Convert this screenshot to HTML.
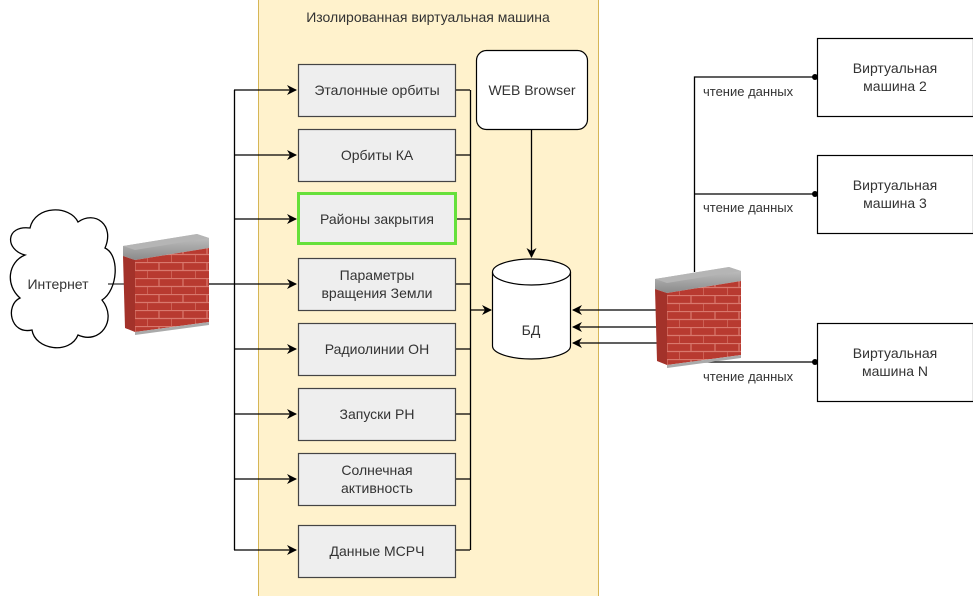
<!DOCTYPE html>
<html><head><meta charset="utf-8"><style>
body{margin:0;background:#fff}
svg text{font-family:"Liberation Sans",sans-serif;font-size:14px;fill:#333}
</style></head><body>
<svg width="973" height="596" viewBox="0 0 973 596" xmlns="http://www.w3.org/2000/svg">
<defs>
<marker id="ar" markerWidth="10" markerHeight="10" refX="9" refY="5" orient="auto" markerUnits="userSpaceOnUse"><path d="M0,0 L10,5 L0,10 L3,5 z" fill="#000"/></marker>
<linearGradient id="cap" x1="0" y1="0" x2="0" y2="1"><stop offset="0" stop-color="#c4c4c4"/><stop offset="1" stop-color="#8a8a8a"/></linearGradient>
<pattern id="brick" width="24" height="16" patternUnits="userSpaceOnUse"><rect width="24" height="16" fill="#b83a30"/><path d="M0,0.5H24 M0,8.5H24 M12,0V8 M0,8V16" stroke="#d9786d" stroke-width="1.2"/></pattern>
<g id="fw">
<polygon points="0,16 74,4 86,8 86,18 12,30 0,26" fill="url(#cap)"/>
<polygon points="0,16 74,4 86,8 12,20" fill="#b5b5b5"/>
<polygon points="0,26 12,30 12,102 2,98" fill="#a3322a"/>
<polygon points="12,30 86,18 86,92 12,102" fill="url(#brick)"/>
<polygon points="12,102 86,92 86,95 12,105" fill="#aaa"/>
</g>
</defs>
<rect x="258.5" y="-1" width="340" height="598" fill="#fff2cc" stroke="#d6b656"/>
<text x="428" y="22" text-anchor="middle">Изолированная виртуальная машина</text>

<path d="M25,255 C5,250 5,225 30,228 C35,205 70,205 78,222 C95,210 115,225 105,248 C120,255 118,290 102,300 C118,320 100,345 78,335 C70,355 35,350 32,330 C10,335 5,305 20,298 C5,285 8,262 25,255 Z" fill="#fff" stroke="#000" stroke-width="1.3"/>
<text x="58" y="289" text-anchor="middle">Интернет</text>
<line x1="108" y1="284" x2="128" y2="284" stroke="#000"/>
<use href="#fw" x="123" y="230"/>

<g stroke="#000" stroke-width="1.3" fill="none">
<line x1="209" y1="284" x2="296" y2="284" marker-end="url(#ar)"/>
<line x1="234.5" y1="90" x2="234.5" y2="550"/>
<line x1="234" y1="90" x2="296" y2="90" marker-end="url(#ar)"/>
<line x1="234" y1="155" x2="296" y2="155" marker-end="url(#ar)"/>
<line x1="234" y1="219" x2="296" y2="219" marker-end="url(#ar)"/>
<line x1="234" y1="349" x2="296" y2="349" marker-end="url(#ar)"/>
<line x1="234" y1="414" x2="296" y2="414" marker-end="url(#ar)"/>
<line x1="234" y1="479" x2="296" y2="479" marker-end="url(#ar)"/>
<line x1="234" y1="550" x2="296" y2="550" marker-end="url(#ar)"/>
<line x1="470.5" y1="90" x2="470.5" y2="550"/>
<path d="M455,90H470 M455,155H470 M455,219H470 M455,284H470 M455,349H470 M455,414H470 M455,479H470 M455,550H470"/>
<line x1="470" y1="310" x2="491" y2="310" marker-end="url(#ar)"/>
<line x1="531.5" y1="129" x2="531.5" y2="257" marker-end="url(#ar)"/>
<line x1="660" y1="310" x2="573" y2="310" marker-end="url(#ar)"/>
<line x1="660" y1="327" x2="573" y2="327" marker-end="url(#ar)"/>
<line x1="660" y1="343" x2="573" y2="343" marker-end="url(#ar)"/>
<path d="M694.5,272V77H815 M694,194H815 M694,362H815"/>
</g>
<g fill="#000"><circle cx="815" cy="77" r="3"/><circle cx="815" cy="194" r="3"/><circle cx="815" cy="362" r="3"/></g>

<g fill="#eee" stroke="#444" stroke-width="1.2">
<rect x="298.5" y="64.5" width="157" height="52"/>
<rect x="298.5" y="129.5" width="157" height="52"/>
<rect x="298.5" y="258.5" width="157" height="52"/>
<rect x="298.5" y="323.5" width="157" height="52"/>
<rect x="298.5" y="388.5" width="157" height="52"/>
<rect x="298.5" y="453.5" width="157" height="52"/>
<rect x="298.5" y="525.5" width="157" height="52"/>
</g>
<rect x="298.5" y="193.5" width="157" height="50" fill="#eee" stroke="#66e03a" stroke-width="3"/>
<g text-anchor="middle">
<text x="377" y="95">Эталонные орбиты</text>
<text x="377" y="160">Орбиты КА</text>
<text x="377" y="224">Районы закрытия</text>
<text x="377" y="280">Параметры</text>
<text x="377" y="298">вращения Земли</text>
<text x="377" y="354">Радиолинии ОН</text>
<text x="377" y="419">Запуски РН</text>
<text x="377" y="475">Солнечная</text>
<text x="377" y="493">активность</text>
<text x="377" y="556">Данные МСРЧ</text>
</g>

<rect x="476.5" y="50.5" width="111" height="79" rx="10" fill="#fff" stroke="#000" stroke-width="1.2"/>
<text x="532" y="95" text-anchor="middle">WEB Browser</text>

<path d="M492.5,272 V346 A39,13 0 0 0 570.5,346 V272" fill="#fff" stroke="#000" stroke-width="1.2"/>
<ellipse cx="531.5" cy="272" rx="39" ry="13" fill="#fff" stroke="#000" stroke-width="1.2"/>
<text x="531" y="335" text-anchor="middle">БД</text>

<use href="#fw" x="655" y="263"/>

<g fill="#fff" stroke="#000" stroke-width="1.2">
<rect x="817.5" y="38.5" width="156" height="78"/>
<rect x="817.5" y="155.5" width="156" height="78"/>
<rect x="817.5" y="323.5" width="156" height="78"/>
</g>
<g text-anchor="middle">
<text x="895" y="73">Виртуальная</text><text x="895" y="91">машина 2</text>
<text x="895" y="190">Виртуальная</text><text x="895" y="208">машина 3</text>
<text x="895" y="358">Виртуальная</text><text x="895" y="376">машина N</text>
</g>
<text x="703" y="96" style="font-size:13px">чтение данных</text>
<text x="703" y="212" style="font-size:13px">чтение данных</text>
<text x="703" y="381" style="font-size:13px">чтение данных</text>
</svg>
</body></html>
